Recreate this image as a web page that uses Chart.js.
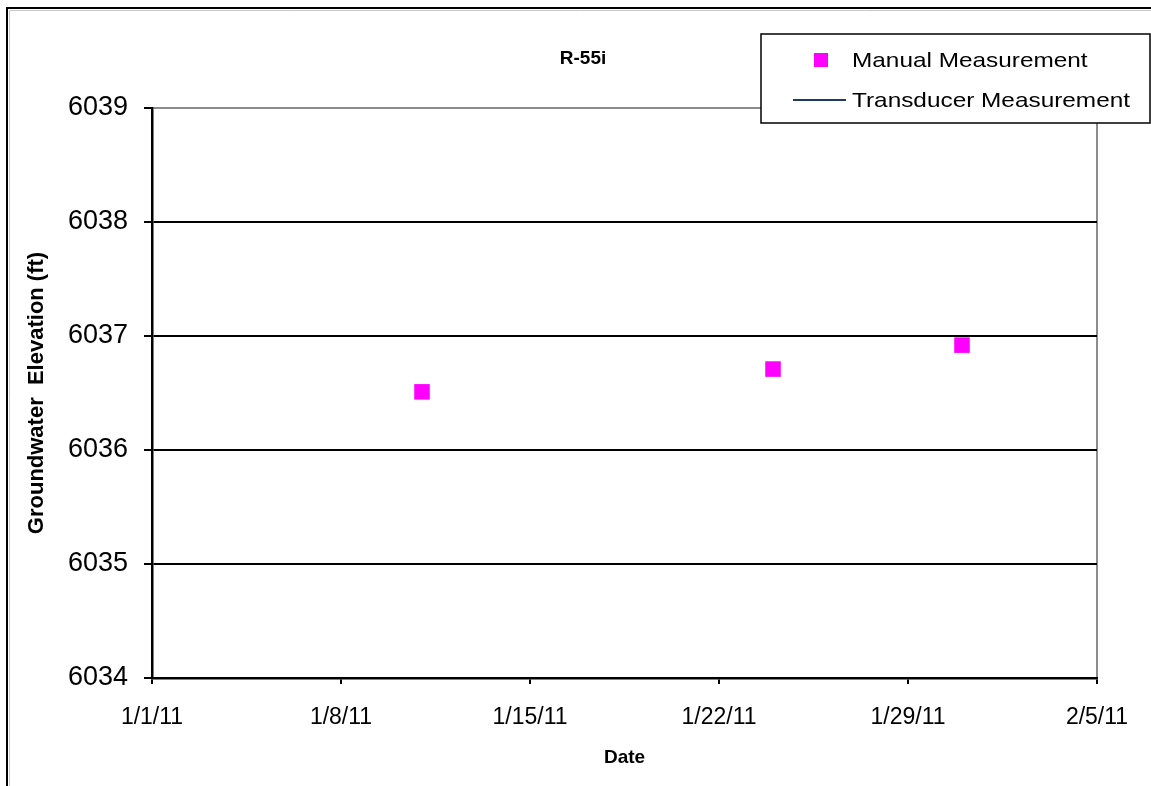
<!DOCTYPE html>
<html>
<head>
<meta charset="utf-8">
<script src="https://cdn.jsdelivr.net/npm/chart.js@4"></script>
<style>
  html, body { margin: 0; padding: 0; background: #fff; }
  #chart { display: block; }
</style>
</head>
<body>
<canvas id="chart" width="1151" height="786"></canvas>
<script>
// ---------------- DATA ----------------
const startDate = '2011-01-01';
const xTickDays = [0, 7, 14, 21, 28, 35];
const yTicks = [6034, 6035, 6036, 6037, 6038, 6039];

const manualDates = ['2011-01-11', '2011-01-24', '2011-01-31'];
const manualValues = [6036.51, 6036.71, 6036.92];

// no transducer readings in this window, series only shows in the legend
const transducerDates = [];
const transducerValues = [];

const FONT = "'Liberation Sans', Arial, sans-serif";
const dayMs = 24 * 3600 * 1000;
const toDay = (s) => (Date.parse(s) - Date.parse(startDate)) / dayMs;
const fmtDay = (v) => {
  const d = new Date(Date.parse(startDate) + v * dayMs);
  return `${d.getUTCMonth() + 1}/${d.getUTCDate()}/${String(d.getUTCFullYear()).slice(2)}`;
};

const manualPts = manualDates.map((d, i) => ({ x: toDay(d), y: manualValues[i] }));
const transducerPts = transducerDates.map((d, i) => ({ x: toDay(d), y: transducerValues[i] }));

// text in the original is a bit stretched sideways
function wideText(ctx, txt, x, y, sx) {
  ctx.save();
  ctx.translate(x, y);
  ctx.scale(sx, 1);
  ctx.fillText(txt, 0, 0);
  ctx.restore();
}

// ---------------- DECOR ----------------
const frameAndLegend = {
  id: 'frameAndLegend',
  beforeDraw(chart) {
    const { ctx } = chart;
    ctx.save();
    ctx.fillStyle = '#fff';
    ctx.fillRect(0, 0, chart.width, chart.height);
    // outer chart frame (only top and left are inside the picture)
    ctx.strokeStyle = '#c8c8c8';
    ctx.lineWidth = 1;
    ctx.beginPath();
    ctx.moveTo(9.5, 786); ctx.lineTo(9.5, 10.5); ctx.lineTo(1151, 10.5);
    ctx.stroke();
    ctx.strokeStyle = '#000';
    ctx.lineWidth = 2;
    ctx.beginPath();
    ctx.moveTo(7, 786); ctx.lineTo(7, 8); ctx.lineTo(1151, 8);
    ctx.stroke();
    // title
    ctx.fillStyle = '#000';
    ctx.font = `bold 19px ${FONT}`;
    ctx.textAlign = 'center';
    ctx.textBaseline = 'middle';
    ctx.fillText('R-55i', 583, 59);
    ctx.restore();
  },
  afterDraw(chart) {
    const { ctx } = chart;
    const ds = chart.data.datasets;
    ctx.save();
    ctx.fillStyle = '#fff';
    ctx.fillRect(761, 34, 390, 89);
    ctx.strokeStyle = '#000';
    ctx.lineWidth = 1.5;
    ctx.strokeRect(761, 34, 389, 89);
    // manual
    ctx.fillStyle = ds[0].backgroundColor;
    ctx.fillRect(814, 53, 14, 14);
    // transducer
    ctx.strokeStyle = ds[1].borderColor;
    ctx.lineWidth = 2;
    ctx.beginPath();
    ctx.moveTo(793, 100); ctx.lineTo(846, 100);
    ctx.stroke();
    ctx.fillStyle = '#000';
    ctx.font = `21px ${FONT}`;
    ctx.textAlign = 'left';
    ctx.textBaseline = 'middle';
    wideText(ctx, ds[0].label, 852, 61, 1.16);
    wideText(ctx, ds[1].label, 852, 101, 1.16);
    ctx.restore();
  },
};

// ---------------- CHART ----------------
new Chart(document.getElementById('chart'), {
  type: 'scatter',
  data: {
    datasets: [
      {
        label: 'Manual Measurement',
        data: manualPts,
        pointStyle: 'rect',
        pointRadius: 11,
        pointHoverRadius: 11,
        borderWidth: 0,
        backgroundColor: '#ff00ff',
        borderColor: '#ff00ff',
      },
      {
        label: 'Transducer Measurement',
        data: transducerPts,
        showLine: true,
        pointRadius: 0,
        borderWidth: 2,
        borderColor: '#1f3864',
        backgroundColor: '#1f3864',
      },
    ],
  },
  options: {
    responsive: false,
    animation: false,
    layout: { padding: { top: 108, right: 54, bottom: 0, left: 0 } },
    plugins: { legend: { display: false }, title: { display: false }, tooltip: { enabled: false } },
    scales: {
      x: {
        type: 'linear',
        min: xTickDays[0],
        max: xTickDays[xTickDays.length - 1],
        afterBuildTicks: (scale) => { scale.ticks = xTickDays.map((v) => ({ value: v })); },
        afterFit: (scale) => { scale.height = 108; },
        border: { color: '#000', width: 2.5 },
        grid: {
          color: (c) => (c.tick && c.tick.value === 35 ? '#8c8c8c' : 'rgba(0,0,0,0)'),
          lineWidth: 2,
          tickColor: '#000',
          tickLength: 6,
        },
        ticks: {
          color: '#000',
          font: { family: FONT, size: 23 },
          padding: 20,
          maxRotation: 0,
          callback: (v) => fmtDay(v),
        },
        title: {
          display: true,
          text: 'Date',
          color: '#000',
          font: { family: FONT, size: 19, weight: 'bold' },
          padding: { top: 0, bottom: 17 },
        },
      },
      y: {
        min: yTicks[0],
        max: yTicks[yTicks.length - 1],
        afterBuildTicks: (scale) => { scale.ticks = yTicks.map((v) => ({ value: v })); },
        afterFit: (scale) => { scale.width = 152; },
        border: { color: '#000', width: 2.5 },
        grid: {
          color: (c) => (c.tick && c.tick.value === 6039 ? '#8c8c8c' : '#000'),
          lineWidth: 2,
          tickColor: '#000',
          tickLength: 8,
        },
        ticks: {
          color: '#000',
          font: { family: FONT, size: 27 },
          padding: 16,
          callback: (v) => String(v),
        },
        title: {
          display: true,
          text: 'Groundwater  Elevation (ft)',
          color: '#000',
          font: { family: FONT, size: 22, weight: 'bold' },
          padding: { top: 24, bottom: 0 },
        },
      },
    },
  },
  plugins: [frameAndLegend],
});
</script>
</body>
</html>
